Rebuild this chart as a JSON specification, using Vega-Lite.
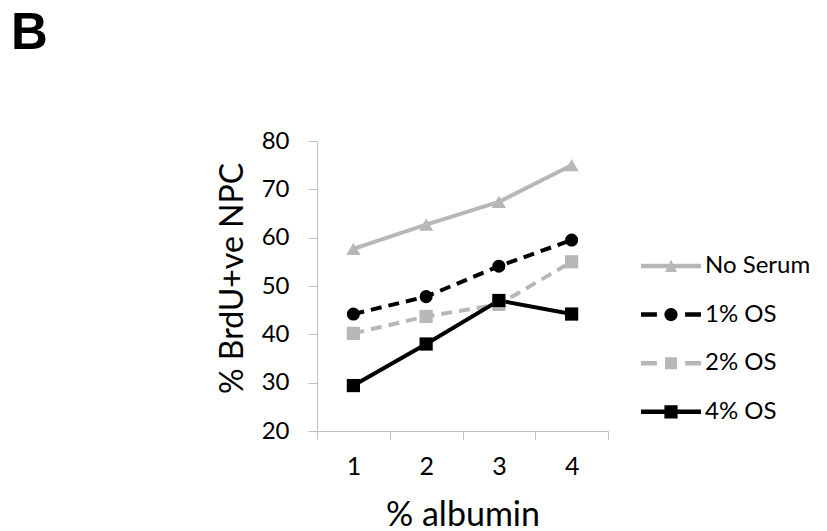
{
  "$schema": "https://vega.github.io/schema/vega-lite/v6.json",
  "autosize": "none",
  "width": 291,
  "height": 290,
  "padding": {"left": 317, "top": 141, "right": 219, "bottom": 100},
  "background": "white",
  "title": {
    "text": "B",
    "font": "Liberation Sans",
    "fontSize": 51,
    "fontWeight": "bold",
    "color": "#000000",
    "anchor": "start",
    "frame": "group",
    "dx": -306,
    "offset": 69
  },
  "config": {
    "view": {"stroke": null},
    "font": "Lato"
  },
  "data": {
    "values": [
      {"a": "1", "series": "No Serum", "v": 57.7},
      {"a": "2", "series": "No Serum", "v": 62.7},
      {"a": "3", "series": "No Serum", "v": 67.4},
      {"a": "4", "series": "No Serum", "v": 75.0},
      {"a": "1", "series": "1% OS", "v": 44.2},
      {"a": "2", "series": "1% OS", "v": 47.8},
      {"a": "3", "series": "1% OS", "v": 54.1},
      {"a": "4", "series": "1% OS", "v": 59.5},
      {"a": "1", "series": "2% OS", "v": 40.2},
      {"a": "2", "series": "2% OS", "v": 43.7},
      {"a": "3", "series": "2% OS", "v": 46.2},
      {"a": "4", "series": "2% OS", "v": 55.0},
      {"a": "1", "series": "4% OS", "v": 29.4},
      {"a": "2", "series": "4% OS", "v": 38.0},
      {"a": "3", "series": "4% OS", "v": 47.0},
      {"a": "4", "series": "4% OS", "v": 44.2}
    ]
  },
  "encoding": {
    "x": {
      "field": "a",
      "type": "ordinal",
      "scale": {"type": "band", "paddingInner": 0, "paddingOuter": 0},
      "axis": {
        "title": "% albumin",
        "titleFont": "Lato",
        "titleFontSize": 34,
        "titleFontWeight": "normal",
        "titleColor": "#000000",
        "titlePadding": 19,
        "labelAngle": 0,
        "labelFont": "Lato",
        "labelFontSize": 25,
        "labelColor": "#000000",
        "labelPadding": 15,
        "tickBand": "extent",
        "tickSize": 8,
        "tickColor": "#BFBFBF",
        "domainColor": "#BFBFBF",
        "grid": false
      }
    },
    "y": {
      "field": "v",
      "type": "quantitative",
      "scale": {"domain": [20, 80], "nice": false, "zero": false},
      "axis": {
        "title": "% BrdU+ve NPC",
        "titleFont": "Lato",
        "titleFontSize": 32,
        "titleFontWeight": "normal",
        "titleColor": "#000000",
        "titlePadding": 12,
        "titleY": 137,
        "values": [20, 30, 40, 50, 60, 70, 80],
        "labelFont": "Lato",
        "labelFontSize": 24,
        "labelColor": "#000000",
        "labelPadding": 19,
        "tickSize": 9,
        "tickColor": "#BFBFBF",
        "domainColor": "#BFBFBF",
        "grid": false
      }
    },
    "color": {
      "field": "series",
      "type": "nominal",
      "scale": {
        "domain": ["No Serum", "1% OS", "2% OS", "4% OS"],
        "range": ["#B7B7B7", "#000000", "#B7B7B7", "#000000"]
      },
      "legend": {
        "title": null,
        "orient": "none",
        "legendX": 324,
        "legendY": 95,
        "padding": 0,
        "symbolSize": 3600,
        "rowPadding": 6.6,
        "labelFont": "Lato",
        "labelFontSize": 24,
        "labelColor": "#000000",
        "labelOffset": 4,
        "encode": {
          "symbols": {
            "update": {
              "shape": {"signal": "datum.value == 'No Serum' ? 'M-1,-0.075L1,-0.075L1,0.075L-1,0.075Z M0,-0.22L0.2,0.2L-0.2,0.2Z' : datum.value == '1% OS' ? 'M-1,-0.075L-0.47,-0.075L-0.47,0.075L-1,0.075Z M0.47,-0.075L1,-0.075L1,0.075L0.47,0.075Z M-0.22,0A0.22,0.22 0 1,1 0.22,0A0.22,0.22 0 1,1 -0.22,0Z' : datum.value == '2% OS' ? 'M-1,-0.075L-0.47,-0.075L-0.47,0.075L-1,0.075Z M0.47,-0.075L1,-0.075L1,0.075L0.47,0.075Z M-0.2,-0.2L0.2,-0.2L0.2,0.2L-0.2,0.2Z' : 'M-1,-0.075L1,-0.075L1,0.075L-1,0.075Z M-0.22,-0.22L0.22,-0.22L0.22,0.22L-0.22,0.22Z'"},
              "size": {"value": 3600},
              "fill": {"signal": "(datum.value == 'No Serum' || datum.value == '2% OS') ? '#B7B7B7' : '#000000'"},
              "stroke": {"value": "transparent"},
              "strokeWidth": {"value": 0},
              "strokeDash": {"value": []},
              "opacity": {"value": 1},
              "fillOpacity": {"value": 1}
            }
          }
        }
      }
    }
  },
  "layer": [
    {
      "transform": [{"filter": "datum.series == '1% OS' || datum.series == '2% OS'"}],
      "mark": {"type": "line", "strokeWidth": 4, "strokeDash": [11, 7]}
    },
    {
      "transform": [{"filter": "datum.series == 'No Serum' || datum.series == '4% OS'"}],
      "mark": {"type": "line", "strokeWidth": 4}
    },
    {
      "transform": [{"filter": "datum.series == 'No Serum'"}],
      "mark": {"type": "point", "filled": true, "opacity": 1, "shape": "triangle-up", "size": 200}
    },
    {
      "transform": [{"filter": "datum.series == '1% OS'"}],
      "mark": {"type": "point", "filled": true, "opacity": 1, "shape": "circle", "size": 170}
    },
    {
      "transform": [{"filter": "datum.series == '2% OS' || datum.series == '4% OS'"}],
      "mark": {"type": "point", "filled": true, "opacity": 1, "shape": "square", "size": 175}
    }
  ]
}
